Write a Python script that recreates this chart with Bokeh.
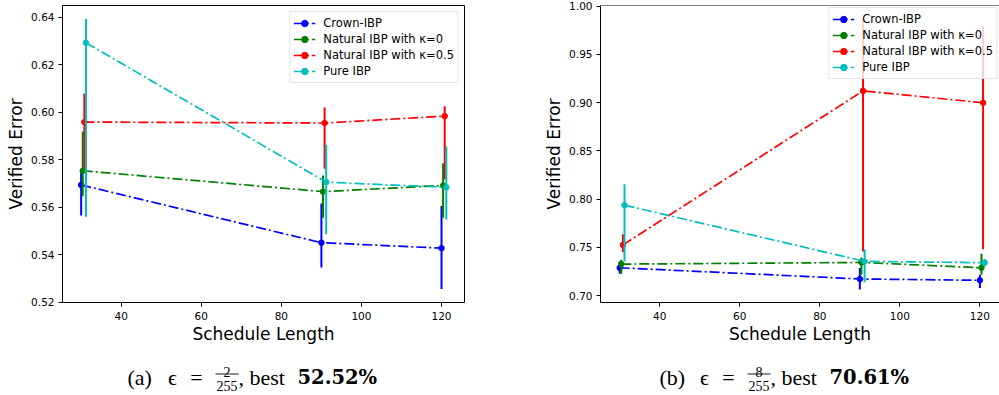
from bokeh.plotting import figure
from bokeh.models import (Range1d, FixedTicker, PrintfTickFormatter, Legend, LegendItem,
                          Label, Span)
from bokeh.layouts import row, column
from bokeh.embed import file_html
from bokeh.resources import INLINE

# ---------------- data ----------------
schedule = [30, 90, 120]
series_names = ["Crown-IBP", "Natural IBP with κ=0", "Natural IBP with κ=0.5", "Pure IBP"]
series_colors = ["#0000ff", "#008000", "#ff0000", "#00bfbf"]
series_shift = [0.0, 0.4, 0.8, 1.2]

# (a) eps = 2/255
crown_a = [0.5694, 0.5451, 0.5428]
crown_a_lo = [0.5565, 0.5346, 0.5256]
crown_a_hi = [0.5758, 0.5616, 0.5605]
nat0_a = [0.5754, 0.5666, 0.5692]
nat0_a_lo = [0.5647, 0.5556, 0.5556]
nat0_a_hi = [0.5919, 0.5734, 0.5786]
nat05_a = [0.5959, 0.5955, 0.5984]
nat05_a_lo = [0.5765, 0.5762, 0.5717]
nat05_a_hi = [0.6079, 0.6020, 0.6026]
pure_a = [0.6293, 0.5706, 0.5684]
pure_a_lo = [0.5560, 0.5486, 0.5549]
pure_a_hi = [0.6393, 0.5863, 0.5856]

# (b) eps = 8/255
crown_b = [0.7288, 0.7172, 0.7158]
crown_b_lo = [0.7227, 0.7062, 0.7079]
crown_b_hi = [0.7354, 0.7285, 0.7216]
nat0_b = [0.7326, 0.7343, 0.7288]
nat0_b_lo = [0.7227, 0.7216, 0.7216]
nat0_b_hi = [0.7371, 0.7395, 0.7433]
nat05_b = [0.7525, 0.9121, 0.8998]
nat05_b_lo = [0.7450, 0.7456, 0.7480]
nat05_b_hi = [0.7635, 0.9859, 0.9790]
pure_b = [0.7937, 0.7354, 0.7340]
pure_b_lo = [0.7354, 0.7137, 0.7300]
pure_b_hi = [0.8153, 0.7480, 0.7378]

x_ticks = [40, 60, 80, 100, 120]
y_ticks_a = [0.52, 0.54, 0.56, 0.58, 0.60, 0.62, 0.64]
y_ticks_b = [0.70, 0.75, 0.80, 0.85, 0.90, 0.95, 1.00]

SANS = "DejaVu Sans"
SERIF = "Liberation Serif"


def make_panel(means, lows, highs, y_range, y_ticks, x_range, width, bl, br,
               legend_margin, outline):
    p = figure(width=width, height=346, x_range=Range1d(*x_range), y_range=Range1d(*y_range),
               output_backend="svg", toolbar_location=None,
               min_border_left=bl, min_border_right=br, min_border_top=5, min_border_bottom=43)
    p.grid.visible = False
    p.background_fill_color = "white"
    p.border_fill_color = "white"
    if outline:
        p.outline_line_color = "black"
        p.outline_line_width = 1
        p.outline_line_alpha = 1
        p.axis.axis_line_color = None
    else:
        p.outline_line_color = None
        p.axis.axis_line_color = "black"
        p.axis.axis_line_width = 1
        p.add_layout(Span(location=y_range[1], dimension="width", line_color="black",
                          line_width=1))
    p.xaxis.ticker = FixedTicker(ticks=x_ticks)
    p.yaxis.ticker = FixedTicker(ticks=y_ticks)
    p.yaxis.formatter = PrintfTickFormatter(format="%.2f")
    p.axis.major_tick_out = 4
    p.axis.major_tick_in = 0
    p.axis.minor_tick_out = 0
    p.axis.minor_tick_in = 0
    p.axis.major_tick_line_color = "black"
    p.axis.major_label_text_font = SANS
    p.axis.major_label_text_font_size = "10.5px"
    p.axis.major_label_text_color = "black"
    p.axis.axis_label_text_font = SANS
    p.axis.axis_label_text_font_size = "17px"
    p.axis.axis_label_text_font_style = "normal"
    p.axis.axis_label_text_color = "black"
    p.xaxis.axis_label = "Schedule Length"
    p.yaxis.axis_label = "Verified Error"
    p.xaxis.major_label_standoff = 5
    p.yaxis.major_label_standoff = 4
    p.xaxis.axis_label_standoff = 1
    p.yaxis.axis_label_standoff = 2

    items = []
    for name, color, shift, m, lo, hi in zip(series_names, series_colors, series_shift,
                                             means, lows, highs):
        xs = [s + shift for s in schedule]
        ln = p.line(xs, m, line_color=color, line_width=1.7, line_dash="10 3 2 3")
        p.segment(x0=xs, x1=xs, y0=lo, y1=hi, line_color=color, line_width=2)
        sc = p.scatter(xs, m, size=5.5, fill_color=color, line_color=color)
        items.append(LegendItem(label=name, renderers=[ln, sc]))

    legend = Legend(items=items, location="top_right", margin=legend_margin,
                    label_text_font=SANS, label_text_font_size="11.5px",
                    label_text_color="black",
                    glyph_width=22, glyph_height=16, label_height=16, spacing=0,
                    label_standoff=8, padding=3,
                    border_line_color="#cccccc", border_line_width=1,
                    background_fill_color="white", background_fill_alpha=0.8)
    p.add_layout(legend, "center")
    return p


p1 = make_panel([crown_a, nat0_a, nat05_a, pure_a],
                [crown_a_lo, nat0_a_lo, nat05_a_lo, pure_a_lo],
                [crown_a_hi, nat0_a_hi, nat05_a_hi, pure_a_hi],
                (0.5199, 0.6450), y_ticks_a, (25.34, 125.74), 536, 62, 72, 6, True)
p2 = make_panel([crown_b, nat0_b, nat05_b, pure_b],
                [crown_b_lo, nat0_b_lo, nat05_b_lo, pure_b_lo],
                [crown_b_hi, nat0_b_hi, nat05_b_hi, pure_b_hi],
                (0.6928, 1.0006), y_ticks_b, (25.2, 124.9), 463, 64, 0, 2, False)

# ---------------- captions ----------------
cap = figure(width=999, height=49, x_range=Range1d(0, 999), y_range=Range1d(395, 346),
             output_backend="svg", toolbar_location=None, min_border=0)
cap.axis.visible = False
cap.grid.visible = False
cap.outline_line_color = None

captions = [("(a)", "2", "52.52%", 0), ("(b)", "8", "70.61%", 532)]
bar_x0, bar_x1, bar_y = [], [], []
for tag, num, best, dx in captions:
    def lab(x, y, t, size="22px", font=SERIF, align="left", style="normal"):
        cap.add_layout(Label(x=x + dx, y=y, text=t, text_font=font, text_font_size=size,
                             text_align=align, text_baseline="alphabetic",
                             text_font_style=style, text_color="black"))
    lab(127, 377, tag)
    lab(172, 377, "ϵ", align="center")
    lab(196, 377, "=", align="center")
    lab(226.5, 371.5, num, size="14px", align="center")
    lab(226.5, 385.5, "255", size="14px", align="center")
    lab(238, 377, ",")
    lab(249, 377, "best")
    lab(297, 377, best, size="19.5px", font="DejaVu Serif", style="bold")
    bar_x0.append(215 + dx)
    bar_x1.append(238 + dx)
    bar_y.append(373.5)
cap.segment(x0=bar_x0, x1=bar_x1, y0=bar_y, y1=bar_y, line_color="black", line_width=0.9)

layout = column(row(p1, p2), cap)

open("out.html", "w").write(file_html(layout, INLINE))
